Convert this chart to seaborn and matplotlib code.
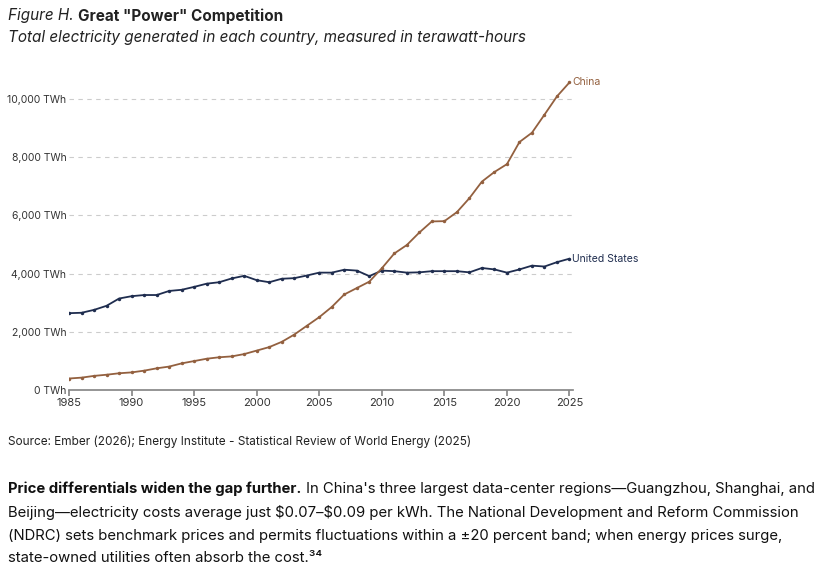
import numpy as np
import pandas as pd
import matplotlib
matplotlib.use('Agg')
import matplotlib.pyplot as plt
import seaborn as sns

years = list(range(1985, 2026))
us_twh = [2636, 2650, 2750, 2890, 3140, 3220, 3260, 3260, 3400, 3440,
          3540, 3650, 3700, 3830, 3920, 3770, 3700, 3820, 3840, 3930,
          4030, 4030, 4130, 4100, 3910, 4100, 4080, 4030, 4040, 4080,
          4080, 4080, 4040, 4190, 4140, 4030, 4140, 4270, 4240, 4390, 4510]
china_twh = [390, 420, 480, 520, 570, 600, 660, 740, 800, 910,
             990, 1070, 1120, 1150, 1230, 1350, 1470, 1650, 1900, 2200,
             2500, 2850, 3280, 3500, 3720, 4180, 4690, 4980, 5410, 5790,
             5800, 6110, 6590, 7160, 7490, 7760, 8520, 8840, 9460, 10090, 10570]
y_ticks = [0, 2000, 4000, 6000, 8000, 10000]
x_ticks = [1985, 1990, 1995, 2000, 2005, 2010, 2015, 2020, 2025]

df = pd.DataFrame({'year': years * 2,
                   'twh': us_twh + china_twh,
                   'country': ['United States'] * len(years) + ['China'] * len(years)})
colors = {'United States': '#1f2d4f', 'China': '#93603f'}

sns.set_theme(style='white')
plt.rcParams['font.family'] = ['Inter', 'DejaVu Sans']
plt.rcParams['text.parse_math'] = False

fig = plt.figure(figsize=(8.32, 5.65), dpi=100)
ax = fig.add_axes([0.083, 0.31, 0.606, 0.556])

sns.lineplot(data=df, x='year', y='twh', hue='country', palette=colors,
             marker='o', markersize=2.5, markeredgewidth=0, linewidth=1.3,
             legend=False, ax=ax)

ax.set_xlim(1985, 2025.3)
ax.set_ylim(0, 10800)
ax.set_yticks(y_ticks)
ax.set_yticklabels([f'{v:,} TWh' for v in y_ticks], fontsize=7.5, color='#333333')
ax.set_xticks(x_ticks)
ax.set_xticklabels([str(v) for v in x_ticks], fontsize=8, color='#333333')
ax.set_xlabel('')
ax.set_ylabel('')
for v in y_ticks[1:]:
    ax.axhline(v, color='#cccccc', lw=0.8, ls=(0, (4, 4)), zorder=0)
for s in ['top', 'right', 'left']:
    ax.spines[s].set_visible(False)
ax.spines['bottom'].set_color('#888888')
ax.tick_params(axis='x', length=4, color='#888888', pad=2, bottom=True)
ax.tick_params(axis='y', length=0, pad=2)

ax.text(2025.2, china_twh[-1], 'China', color=colors['China'], fontsize=7.5, va='center')
ax.text(2025.2, us_twh[-1], 'United States', color=colors['United States'], fontsize=7.5, va='center')

t = fig.text(0.01, 0.972, 'Figure H. ', fontsize=11, style='italic', color='#222222', va='center')
fig.canvas.draw()
x2 = t.get_window_extent().x1 / fig.bbox.width
fig.text(x2, 0.972, 'Great "Power" Competition', fontsize=11, weight='bold', color='#222222', va='center')
fig.text(0.01, 0.933, 'Total electricity generated in each country, measured in terawatt-hours',
         fontsize=11, style='italic', color='#222222', va='center')
fig.text(0.01, 0.218, 'Source: Ember (2026); Energy Institute - Statistical Review of World Energy (2025)',
         fontsize=8.5, color='#222222', va='center')

para = [("Price differentials widen the gap further.", " In China's three largest data-center regions\u2014Guangzhou, Shanghai, and"),
        ("", "Beijing\u2014electricity costs average just $0.07\u2013$0.09 per kWh. The National Development and Reform Commission"),
        ("", "(NDRC) sets benchmark prices and permits fluctuations within a \u00b120 percent band; when energy prices surge,"),
        ("", "state-owned utilities often absorb the cost.\u00b3\u2074")]
ys = [0.135, 0.093, 0.051, 0.012]
for (b, r), yy in zip(para, ys):
    if b:
        t = fig.text(0.01, yy, b, fontsize=10.7, weight='bold', color='#111111', va='center')
        fig.canvas.draw()
        x2 = t.get_window_extent().x1 / fig.bbox.width
        fig.text(x2, yy, r, fontsize=10.7, color='#111111', va='center')
    else:
        fig.text(0.01, yy, r, fontsize=10.7, color='#111111', va='center')

fig.savefig('out.png', dpi=100)
